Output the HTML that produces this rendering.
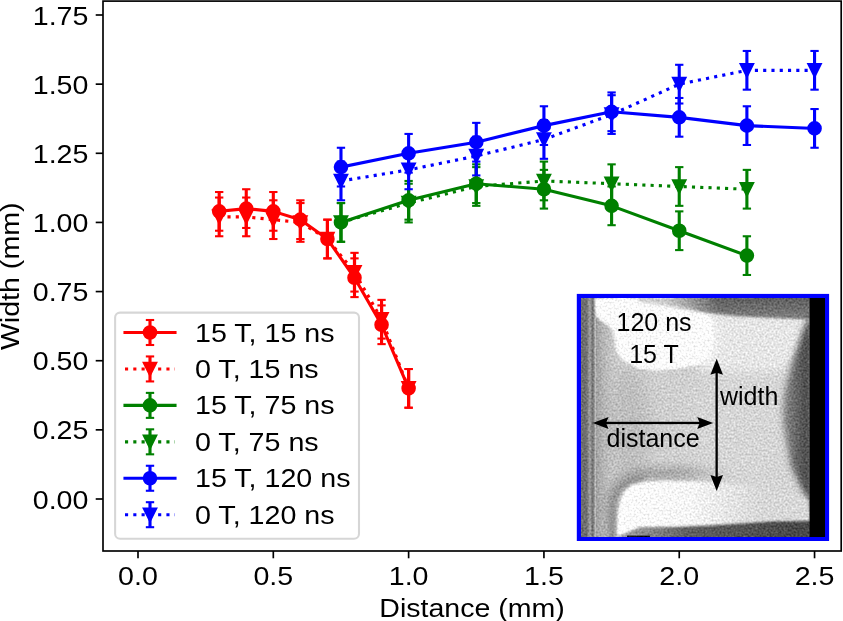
<!DOCTYPE html><html><head><meta charset="utf-8"><style>html,body{margin:0;padding:0;background:#fff;}svg{display:block;will-change:transform;}text{font-family:"Liberation Sans",sans-serif;}</style></head><body><svg width="843" height="621" viewBox="0 0 843 621" font-family="Liberation Sans, sans-serif" fill="#000"><rect width="843" height="621" fill="#fff"/><line x1="219.19" y1="192.01" x2="219.19" y2="230.73" stroke="#ff0000" stroke-width="3.12"/><line x1="215.02" y1="192.01" x2="223.35" y2="192.01" stroke="#ff0000" stroke-width="2.08"/><line x1="215.02" y1="230.73" x2="223.35" y2="230.73" stroke="#ff0000" stroke-width="2.08"/><line x1="246.25" y1="189.24" x2="246.25" y2="227.96" stroke="#ff0000" stroke-width="3.12"/><line x1="242.08" y1="189.24" x2="250.41" y2="189.24" stroke="#ff0000" stroke-width="2.08"/><line x1="242.08" y1="227.96" x2="250.41" y2="227.96" stroke="#ff0000" stroke-width="2.08"/><line x1="273.31" y1="192.01" x2="273.31" y2="230.73" stroke="#ff0000" stroke-width="3.12"/><line x1="269.14" y1="192.01" x2="277.48" y2="192.01" stroke="#ff0000" stroke-width="2.08"/><line x1="269.14" y1="230.73" x2="277.48" y2="230.73" stroke="#ff0000" stroke-width="2.08"/><line x1="300.37" y1="200.3" x2="300.37" y2="239.02" stroke="#ff0000" stroke-width="3.12"/><line x1="296.21" y1="200.3" x2="304.54" y2="200.3" stroke="#ff0000" stroke-width="2.08"/><line x1="296.21" y1="239.02" x2="304.54" y2="239.02" stroke="#ff0000" stroke-width="2.08"/><line x1="327.43" y1="219.66" x2="327.43" y2="258.38" stroke="#ff0000" stroke-width="3.12"/><line x1="323.27" y1="219.66" x2="331.6" y2="219.66" stroke="#ff0000" stroke-width="2.08"/><line x1="323.27" y1="258.38" x2="331.6" y2="258.38" stroke="#ff0000" stroke-width="2.08"/><line x1="354.5" y1="258.38" x2="354.5" y2="297.1" stroke="#ff0000" stroke-width="3.12"/><line x1="350.33" y1="258.38" x2="358.66" y2="258.38" stroke="#ff0000" stroke-width="2.08"/><line x1="350.33" y1="297.1" x2="358.66" y2="297.1" stroke="#ff0000" stroke-width="2.08"/><line x1="381.56" y1="305.4" x2="381.56" y2="344.12" stroke="#ff0000" stroke-width="3.12"/><line x1="377.39" y1="305.4" x2="385.72" y2="305.4" stroke="#ff0000" stroke-width="2.08"/><line x1="377.39" y1="344.12" x2="385.72" y2="344.12" stroke="#ff0000" stroke-width="2.08"/><line x1="408.62" y1="369.01" x2="408.62" y2="407.73" stroke="#ff0000" stroke-width="3.12"/><line x1="404.45" y1="369.01" x2="412.79" y2="369.01" stroke="#ff0000" stroke-width="2.08"/><line x1="404.45" y1="407.73" x2="412.79" y2="407.73" stroke="#ff0000" stroke-width="2.08"/><line x1="219.19" y1="197.54" x2="219.19" y2="236.26" stroke="#ff0000" stroke-width="3.12"/><line x1="215.02" y1="197.54" x2="223.35" y2="197.54" stroke="#ff0000" stroke-width="2.08"/><line x1="215.02" y1="236.26" x2="223.35" y2="236.26" stroke="#ff0000" stroke-width="2.08"/><line x1="246.25" y1="197.54" x2="246.25" y2="236.26" stroke="#ff0000" stroke-width="3.12"/><line x1="242.08" y1="197.54" x2="250.41" y2="197.54" stroke="#ff0000" stroke-width="2.08"/><line x1="242.08" y1="236.26" x2="250.41" y2="236.26" stroke="#ff0000" stroke-width="2.08"/><line x1="273.31" y1="200.3" x2="273.31" y2="239.02" stroke="#ff0000" stroke-width="3.12"/><line x1="269.14" y1="200.3" x2="277.48" y2="200.3" stroke="#ff0000" stroke-width="2.08"/><line x1="269.14" y1="239.02" x2="277.48" y2="239.02" stroke="#ff0000" stroke-width="2.08"/><line x1="300.37" y1="203.07" x2="300.37" y2="241.79" stroke="#ff0000" stroke-width="3.12"/><line x1="296.21" y1="203.07" x2="304.54" y2="203.07" stroke="#ff0000" stroke-width="2.08"/><line x1="296.21" y1="241.79" x2="304.54" y2="241.79" stroke="#ff0000" stroke-width="2.08"/><line x1="327.43" y1="219.66" x2="327.43" y2="258.38" stroke="#ff0000" stroke-width="3.12"/><line x1="323.27" y1="219.66" x2="331.6" y2="219.66" stroke="#ff0000" stroke-width="2.08"/><line x1="323.27" y1="258.38" x2="331.6" y2="258.38" stroke="#ff0000" stroke-width="2.08"/><line x1="354.5" y1="252.85" x2="354.5" y2="291.57" stroke="#ff0000" stroke-width="3.12"/><line x1="350.33" y1="252.85" x2="358.66" y2="252.85" stroke="#ff0000" stroke-width="2.08"/><line x1="350.33" y1="291.57" x2="358.66" y2="291.57" stroke="#ff0000" stroke-width="2.08"/><line x1="381.56" y1="299.87" x2="381.56" y2="338.59" stroke="#ff0000" stroke-width="3.12"/><line x1="377.39" y1="299.87" x2="385.72" y2="299.87" stroke="#ff0000" stroke-width="2.08"/><line x1="377.39" y1="338.59" x2="385.72" y2="338.59" stroke="#ff0000" stroke-width="2.08"/><line x1="408.62" y1="369.01" x2="408.62" y2="407.73" stroke="#ff0000" stroke-width="3.12"/><line x1="404.45" y1="369.01" x2="412.79" y2="369.01" stroke="#ff0000" stroke-width="2.08"/><line x1="404.45" y1="407.73" x2="412.79" y2="407.73" stroke="#ff0000" stroke-width="2.08"/><line x1="340.97" y1="203.07" x2="340.97" y2="241.79" stroke="#008000" stroke-width="3.12"/><line x1="336.8" y1="203.07" x2="345.13" y2="203.07" stroke="#008000" stroke-width="2.08"/><line x1="336.8" y1="241.79" x2="345.13" y2="241.79" stroke="#008000" stroke-width="2.08"/><line x1="408.62" y1="180.94" x2="408.62" y2="219.66" stroke="#008000" stroke-width="3.12"/><line x1="404.45" y1="180.94" x2="412.79" y2="180.94" stroke="#008000" stroke-width="2.08"/><line x1="404.45" y1="219.66" x2="412.79" y2="219.66" stroke="#008000" stroke-width="2.08"/><line x1="476.27" y1="164.35" x2="476.27" y2="203.07" stroke="#008000" stroke-width="3.12"/><line x1="472.11" y1="164.35" x2="480.44" y2="164.35" stroke="#008000" stroke-width="2.08"/><line x1="472.11" y1="203.07" x2="480.44" y2="203.07" stroke="#008000" stroke-width="2.08"/><line x1="543.93" y1="169.88" x2="543.93" y2="208.6" stroke="#008000" stroke-width="3.12"/><line x1="539.76" y1="169.88" x2="548.1" y2="169.88" stroke="#008000" stroke-width="2.08"/><line x1="539.76" y1="208.6" x2="548.1" y2="208.6" stroke="#008000" stroke-width="2.08"/><line x1="611.59" y1="186.48" x2="611.59" y2="225.2" stroke="#008000" stroke-width="3.12"/><line x1="607.42" y1="186.48" x2="615.75" y2="186.48" stroke="#008000" stroke-width="2.08"/><line x1="607.42" y1="225.2" x2="615.75" y2="225.2" stroke="#008000" stroke-width="2.08"/><line x1="679.24" y1="211.37" x2="679.24" y2="250.09" stroke="#008000" stroke-width="3.12"/><line x1="675.07" y1="211.37" x2="683.41" y2="211.37" stroke="#008000" stroke-width="2.08"/><line x1="675.07" y1="250.09" x2="683.41" y2="250.09" stroke="#008000" stroke-width="2.08"/><line x1="746.89" y1="236.26" x2="746.89" y2="274.98" stroke="#008000" stroke-width="3.12"/><line x1="742.73" y1="236.26" x2="751.06" y2="236.26" stroke="#008000" stroke-width="2.08"/><line x1="742.73" y1="274.98" x2="751.06" y2="274.98" stroke="#008000" stroke-width="2.08"/><line x1="340.97" y1="203.07" x2="340.97" y2="241.79" stroke="#008000" stroke-width="3.12"/><line x1="336.8" y1="203.07" x2="345.13" y2="203.07" stroke="#008000" stroke-width="2.08"/><line x1="336.8" y1="241.79" x2="345.13" y2="241.79" stroke="#008000" stroke-width="2.08"/><line x1="408.62" y1="183.71" x2="408.62" y2="222.43" stroke="#008000" stroke-width="3.12"/><line x1="404.45" y1="183.71" x2="412.79" y2="183.71" stroke="#008000" stroke-width="2.08"/><line x1="404.45" y1="222.43" x2="412.79" y2="222.43" stroke="#008000" stroke-width="2.08"/><line x1="476.27" y1="167.12" x2="476.27" y2="205.84" stroke="#008000" stroke-width="3.12"/><line x1="472.11" y1="167.12" x2="480.44" y2="167.12" stroke="#008000" stroke-width="2.08"/><line x1="472.11" y1="205.84" x2="480.44" y2="205.84" stroke="#008000" stroke-width="2.08"/><line x1="543.93" y1="161.58" x2="543.93" y2="200.3" stroke="#008000" stroke-width="3.12"/><line x1="539.76" y1="161.58" x2="548.1" y2="161.58" stroke="#008000" stroke-width="2.08"/><line x1="539.76" y1="200.3" x2="548.1" y2="200.3" stroke="#008000" stroke-width="2.08"/><line x1="611.59" y1="164.35" x2="611.59" y2="203.07" stroke="#008000" stroke-width="3.12"/><line x1="607.42" y1="164.35" x2="615.75" y2="164.35" stroke="#008000" stroke-width="2.08"/><line x1="607.42" y1="203.07" x2="615.75" y2="203.07" stroke="#008000" stroke-width="2.08"/><line x1="679.24" y1="167.12" x2="679.24" y2="205.84" stroke="#008000" stroke-width="3.12"/><line x1="675.07" y1="167.12" x2="683.41" y2="167.12" stroke="#008000" stroke-width="2.08"/><line x1="675.07" y1="205.84" x2="683.41" y2="205.84" stroke="#008000" stroke-width="2.08"/><line x1="746.89" y1="169.88" x2="746.89" y2="208.6" stroke="#008000" stroke-width="3.12"/><line x1="742.73" y1="169.88" x2="751.06" y2="169.88" stroke="#008000" stroke-width="2.08"/><line x1="742.73" y1="208.6" x2="751.06" y2="208.6" stroke="#008000" stroke-width="2.08"/><line x1="340.97" y1="147.76" x2="340.97" y2="186.48" stroke="#0000ff" stroke-width="3.12"/><line x1="336.8" y1="147.76" x2="345.13" y2="147.76" stroke="#0000ff" stroke-width="2.08"/><line x1="336.8" y1="186.48" x2="345.13" y2="186.48" stroke="#0000ff" stroke-width="2.08"/><line x1="408.62" y1="133.93" x2="408.62" y2="172.65" stroke="#0000ff" stroke-width="3.12"/><line x1="404.45" y1="133.93" x2="412.79" y2="133.93" stroke="#0000ff" stroke-width="2.08"/><line x1="404.45" y1="172.65" x2="412.79" y2="172.65" stroke="#0000ff" stroke-width="2.08"/><line x1="476.27" y1="122.86" x2="476.27" y2="161.58" stroke="#0000ff" stroke-width="3.12"/><line x1="472.11" y1="122.86" x2="480.44" y2="122.86" stroke="#0000ff" stroke-width="2.08"/><line x1="472.11" y1="161.58" x2="480.44" y2="161.58" stroke="#0000ff" stroke-width="2.08"/><line x1="543.93" y1="106.27" x2="543.93" y2="144.99" stroke="#0000ff" stroke-width="3.12"/><line x1="539.76" y1="106.27" x2="548.1" y2="106.27" stroke="#0000ff" stroke-width="2.08"/><line x1="539.76" y1="144.99" x2="548.1" y2="144.99" stroke="#0000ff" stroke-width="2.08"/><line x1="611.59" y1="92.44" x2="611.59" y2="131.16" stroke="#0000ff" stroke-width="3.12"/><line x1="607.42" y1="92.44" x2="615.75" y2="92.44" stroke="#0000ff" stroke-width="2.08"/><line x1="607.42" y1="131.16" x2="615.75" y2="131.16" stroke="#0000ff" stroke-width="2.08"/><line x1="679.24" y1="97.97" x2="679.24" y2="136.69" stroke="#0000ff" stroke-width="3.12"/><line x1="675.07" y1="97.97" x2="683.41" y2="97.97" stroke="#0000ff" stroke-width="2.08"/><line x1="675.07" y1="136.69" x2="683.41" y2="136.69" stroke="#0000ff" stroke-width="2.08"/><line x1="746.89" y1="106.27" x2="746.89" y2="144.99" stroke="#0000ff" stroke-width="3.12"/><line x1="742.73" y1="106.27" x2="751.06" y2="106.27" stroke="#0000ff" stroke-width="2.08"/><line x1="742.73" y1="144.99" x2="751.06" y2="144.99" stroke="#0000ff" stroke-width="2.08"/><line x1="814.55" y1="109.04" x2="814.55" y2="147.76" stroke="#0000ff" stroke-width="3.12"/><line x1="810.38" y1="109.04" x2="818.72" y2="109.04" stroke="#0000ff" stroke-width="2.08"/><line x1="810.38" y1="147.76" x2="818.72" y2="147.76" stroke="#0000ff" stroke-width="2.08"/><line x1="340.97" y1="161.58" x2="340.97" y2="200.3" stroke="#0000ff" stroke-width="3.12"/><line x1="336.8" y1="161.58" x2="345.13" y2="161.58" stroke="#0000ff" stroke-width="2.08"/><line x1="336.8" y1="200.3" x2="345.13" y2="200.3" stroke="#0000ff" stroke-width="2.08"/><line x1="408.62" y1="150.52" x2="408.62" y2="189.24" stroke="#0000ff" stroke-width="3.12"/><line x1="404.45" y1="150.52" x2="412.79" y2="150.52" stroke="#0000ff" stroke-width="2.08"/><line x1="404.45" y1="189.24" x2="412.79" y2="189.24" stroke="#0000ff" stroke-width="2.08"/><line x1="476.27" y1="136.69" x2="476.27" y2="175.41" stroke="#0000ff" stroke-width="3.12"/><line x1="472.11" y1="136.69" x2="480.44" y2="136.69" stroke="#0000ff" stroke-width="2.08"/><line x1="472.11" y1="175.41" x2="480.44" y2="175.41" stroke="#0000ff" stroke-width="2.08"/><line x1="543.93" y1="120.1" x2="543.93" y2="158.82" stroke="#0000ff" stroke-width="3.12"/><line x1="539.76" y1="120.1" x2="548.1" y2="120.1" stroke="#0000ff" stroke-width="2.08"/><line x1="539.76" y1="158.82" x2="548.1" y2="158.82" stroke="#0000ff" stroke-width="2.08"/><line x1="611.59" y1="95.21" x2="611.59" y2="133.93" stroke="#0000ff" stroke-width="3.12"/><line x1="607.42" y1="95.21" x2="615.75" y2="95.21" stroke="#0000ff" stroke-width="2.08"/><line x1="607.42" y1="133.93" x2="615.75" y2="133.93" stroke="#0000ff" stroke-width="2.08"/><line x1="679.24" y1="64.79" x2="679.24" y2="103.5" stroke="#0000ff" stroke-width="3.12"/><line x1="675.07" y1="64.79" x2="683.41" y2="64.79" stroke="#0000ff" stroke-width="2.08"/><line x1="675.07" y1="103.5" x2="683.41" y2="103.5" stroke="#0000ff" stroke-width="2.08"/><line x1="746.89" y1="50.96" x2="746.89" y2="89.68" stroke="#0000ff" stroke-width="3.12"/><line x1="742.73" y1="50.96" x2="751.06" y2="50.96" stroke="#0000ff" stroke-width="2.08"/><line x1="742.73" y1="89.68" x2="751.06" y2="89.68" stroke="#0000ff" stroke-width="2.08"/><line x1="814.55" y1="50.96" x2="814.55" y2="89.68" stroke="#0000ff" stroke-width="3.12"/><line x1="810.38" y1="50.96" x2="818.72" y2="50.96" stroke="#0000ff" stroke-width="2.08"/><line x1="810.38" y1="89.68" x2="818.72" y2="89.68" stroke="#0000ff" stroke-width="2.08"/><path d="M219.19 211.37 L246.25 208.6 L273.31 211.37 L300.37 219.66 L327.43 239.02 L354.5 277.74 L381.56 324.76 L408.62 388.37" fill="none" stroke="#ff0000" stroke-width="3.12" stroke-linecap="square" stroke-linejoin="round"/><circle cx="219.19" cy="211.37" r="6.25" fill="#ff0000" stroke="#ff0000" stroke-width="2.08"/><circle cx="246.25" cy="208.6" r="6.25" fill="#ff0000" stroke="#ff0000" stroke-width="2.08"/><circle cx="273.31" cy="211.37" r="6.25" fill="#ff0000" stroke="#ff0000" stroke-width="2.08"/><circle cx="300.37" cy="219.66" r="6.25" fill="#ff0000" stroke="#ff0000" stroke-width="2.08"/><circle cx="327.43" cy="239.02" r="6.25" fill="#ff0000" stroke="#ff0000" stroke-width="2.08"/><circle cx="354.5" cy="277.74" r="6.25" fill="#ff0000" stroke="#ff0000" stroke-width="2.08"/><circle cx="381.56" cy="324.76" r="6.25" fill="#ff0000" stroke="#ff0000" stroke-width="2.08"/><circle cx="408.62" cy="388.37" r="6.25" fill="#ff0000" stroke="#ff0000" stroke-width="2.08"/><path d="M219.19 216.9 L246.25 216.9 L273.31 219.66 L300.37 222.43 L327.43 239.02 L354.5 272.21 L381.56 319.23 L408.62 388.37" fill="none" stroke="#ff0000" stroke-width="3.12" stroke-linecap="butt" stroke-linejoin="round" stroke-dasharray="3.12 5.16"/><polygon points="219.19,223.15 212.94,210.65 225.44,210.65" fill="#ff0000" stroke="#ff0000" stroke-width="2.08" stroke-linejoin="miter"/><polygon points="246.25,223.15 240,210.65 252.5,210.65" fill="#ff0000" stroke="#ff0000" stroke-width="2.08" stroke-linejoin="miter"/><polygon points="273.31,225.91 267.06,213.41 279.56,213.41" fill="#ff0000" stroke="#ff0000" stroke-width="2.08" stroke-linejoin="miter"/><polygon points="300.37,228.68 294.12,216.18 306.62,216.18" fill="#ff0000" stroke="#ff0000" stroke-width="2.08" stroke-linejoin="miter"/><polygon points="327.43,245.27 321.18,232.77 333.68,232.77" fill="#ff0000" stroke="#ff0000" stroke-width="2.08" stroke-linejoin="miter"/><polygon points="354.5,278.46 348.25,265.96 360.75,265.96" fill="#ff0000" stroke="#ff0000" stroke-width="2.08" stroke-linejoin="miter"/><polygon points="381.56,325.48 375.31,312.98 387.81,312.98" fill="#ff0000" stroke="#ff0000" stroke-width="2.08" stroke-linejoin="miter"/><polygon points="408.62,394.62 402.37,382.12 414.87,382.12" fill="#ff0000" stroke="#ff0000" stroke-width="2.08" stroke-linejoin="miter"/><path d="M340.97 222.43 L408.62 200.3 L476.27 183.71 L543.93 189.24 L611.59 205.84 L679.24 230.73 L746.89 255.62" fill="none" stroke="#008000" stroke-width="3.12" stroke-linecap="square" stroke-linejoin="round"/><circle cx="340.97" cy="222.43" r="6.25" fill="#008000" stroke="#008000" stroke-width="2.08"/><circle cx="408.62" cy="200.3" r="6.25" fill="#008000" stroke="#008000" stroke-width="2.08"/><circle cx="476.27" cy="183.71" r="6.25" fill="#008000" stroke="#008000" stroke-width="2.08"/><circle cx="543.93" cy="189.24" r="6.25" fill="#008000" stroke="#008000" stroke-width="2.08"/><circle cx="611.59" cy="205.84" r="6.25" fill="#008000" stroke="#008000" stroke-width="2.08"/><circle cx="679.24" cy="230.73" r="6.25" fill="#008000" stroke="#008000" stroke-width="2.08"/><circle cx="746.89" cy="255.62" r="6.25" fill="#008000" stroke="#008000" stroke-width="2.08"/><path d="M340.97 222.43 L408.62 203.07 L476.27 186.48 L543.93 180.94 L611.59 183.71 L679.24 186.48 L746.89 189.24" fill="none" stroke="#008000" stroke-width="3.12" stroke-linecap="butt" stroke-linejoin="round" stroke-dasharray="3.12 5.16"/><polygon points="340.97,228.68 334.72,216.18 347.22,216.18" fill="#008000" stroke="#008000" stroke-width="2.08" stroke-linejoin="miter"/><polygon points="408.62,209.32 402.37,196.82 414.87,196.82" fill="#008000" stroke="#008000" stroke-width="2.08" stroke-linejoin="miter"/><polygon points="476.27,192.73 470.02,180.23 482.52,180.23" fill="#008000" stroke="#008000" stroke-width="2.08" stroke-linejoin="miter"/><polygon points="543.93,187.19 537.68,174.69 550.18,174.69" fill="#008000" stroke="#008000" stroke-width="2.08" stroke-linejoin="miter"/><polygon points="611.59,189.96 605.34,177.46 617.84,177.46" fill="#008000" stroke="#008000" stroke-width="2.08" stroke-linejoin="miter"/><polygon points="679.24,192.73 672.99,180.23 685.49,180.23" fill="#008000" stroke="#008000" stroke-width="2.08" stroke-linejoin="miter"/><polygon points="746.89,195.49 740.64,182.99 753.14,182.99" fill="#008000" stroke="#008000" stroke-width="2.08" stroke-linejoin="miter"/><path d="M340.97 167.12 L408.62 153.29 L476.27 142.22 L543.93 125.63 L611.59 111.8 L679.24 117.33 L746.89 125.63 L814.55 128.4" fill="none" stroke="#0000ff" stroke-width="3.12" stroke-linecap="square" stroke-linejoin="round"/><circle cx="340.97" cy="167.12" r="6.25" fill="#0000ff" stroke="#0000ff" stroke-width="2.08"/><circle cx="408.62" cy="153.29" r="6.25" fill="#0000ff" stroke="#0000ff" stroke-width="2.08"/><circle cx="476.27" cy="142.22" r="6.25" fill="#0000ff" stroke="#0000ff" stroke-width="2.08"/><circle cx="543.93" cy="125.63" r="6.25" fill="#0000ff" stroke="#0000ff" stroke-width="2.08"/><circle cx="611.59" cy="111.8" r="6.25" fill="#0000ff" stroke="#0000ff" stroke-width="2.08"/><circle cx="679.24" cy="117.33" r="6.25" fill="#0000ff" stroke="#0000ff" stroke-width="2.08"/><circle cx="746.89" cy="125.63" r="6.25" fill="#0000ff" stroke="#0000ff" stroke-width="2.08"/><circle cx="814.55" cy="128.4" r="6.25" fill="#0000ff" stroke="#0000ff" stroke-width="2.08"/><path d="M340.97 180.94 L408.62 169.88 L476.27 156.05 L543.93 139.46 L611.59 114.57 L679.24 84.14 L746.89 70.32 L814.55 70.32" fill="none" stroke="#0000ff" stroke-width="3.12" stroke-linecap="butt" stroke-linejoin="round" stroke-dasharray="3.12 5.16"/><polygon points="340.97,187.19 334.72,174.69 347.22,174.69" fill="#0000ff" stroke="#0000ff" stroke-width="2.08" stroke-linejoin="miter"/><polygon points="408.62,176.13 402.37,163.63 414.87,163.63" fill="#0000ff" stroke="#0000ff" stroke-width="2.08" stroke-linejoin="miter"/><polygon points="476.27,162.3 470.02,149.8 482.52,149.8" fill="#0000ff" stroke="#0000ff" stroke-width="2.08" stroke-linejoin="miter"/><polygon points="543.93,145.71 537.68,133.21 550.18,133.21" fill="#0000ff" stroke="#0000ff" stroke-width="2.08" stroke-linejoin="miter"/><polygon points="611.59,120.82 605.34,108.32 617.84,108.32" fill="#0000ff" stroke="#0000ff" stroke-width="2.08" stroke-linejoin="miter"/><polygon points="679.24,90.39 672.99,77.89 685.49,77.89" fill="#0000ff" stroke="#0000ff" stroke-width="2.08" stroke-linejoin="miter"/><polygon points="746.89,76.57 740.64,64.07 753.14,64.07" fill="#0000ff" stroke="#0000ff" stroke-width="2.08" stroke-linejoin="miter"/><polygon points="814.55,76.57 808.3,64.07 820.8,64.07" fill="#0000ff" stroke="#0000ff" stroke-width="2.08" stroke-linejoin="miter"/><rect x="103" y="1.1" width="738.2" height="549.9" fill="none" stroke="#000" stroke-width="1.67" stroke-linejoin="miter"/><line x1="95.71" y1="499" x2="103" y2="499" stroke="#000" stroke-width="1.67"/><text x="88.42" y="508.57" font-size="26.2" text-anchor="end" textLength="55.66" lengthAdjust="spacingAndGlyphs">0.00</text><line x1="95.71" y1="429.86" x2="103" y2="429.86" stroke="#000" stroke-width="1.67"/><text x="88.42" y="439.43" font-size="26.2" text-anchor="end" textLength="55.66" lengthAdjust="spacingAndGlyphs">0.25</text><line x1="95.71" y1="360.72" x2="103" y2="360.72" stroke="#000" stroke-width="1.67"/><text x="88.42" y="370.29" font-size="26.2" text-anchor="end" textLength="55.66" lengthAdjust="spacingAndGlyphs">0.50</text><line x1="95.71" y1="291.57" x2="103" y2="291.57" stroke="#000" stroke-width="1.67"/><text x="88.42" y="301.14" font-size="26.2" text-anchor="end" textLength="55.66" lengthAdjust="spacingAndGlyphs">0.75</text><line x1="95.71" y1="222.43" x2="103" y2="222.43" stroke="#000" stroke-width="1.67"/><text x="88.42" y="232" font-size="26.2" text-anchor="end" textLength="55.66" lengthAdjust="spacingAndGlyphs">1.00</text><line x1="95.71" y1="153.29" x2="103" y2="153.29" stroke="#000" stroke-width="1.67"/><text x="88.42" y="162.86" font-size="26.2" text-anchor="end" textLength="55.66" lengthAdjust="spacingAndGlyphs">1.25</text><line x1="95.71" y1="84.14" x2="103" y2="84.14" stroke="#000" stroke-width="1.67"/><text x="88.42" y="93.71" font-size="26.2" text-anchor="end" textLength="55.66" lengthAdjust="spacingAndGlyphs">1.50</text><line x1="95.71" y1="15" x2="103" y2="15" stroke="#000" stroke-width="1.67"/><text x="88.42" y="24.57" font-size="26.2" text-anchor="end" textLength="55.66" lengthAdjust="spacingAndGlyphs">1.75</text><line x1="138" y1="551" x2="138" y2="558.29" stroke="#000" stroke-width="1.67"/><text x="138" y="585.1" font-size="26.2" text-anchor="middle" textLength="39.76" lengthAdjust="spacingAndGlyphs">0.0</text><line x1="273.31" y1="551" x2="273.31" y2="558.29" stroke="#000" stroke-width="1.67"/><text x="273.31" y="585.1" font-size="26.2" text-anchor="middle" textLength="39.76" lengthAdjust="spacingAndGlyphs">0.5</text><line x1="408.62" y1="551" x2="408.62" y2="558.29" stroke="#000" stroke-width="1.67"/><text x="408.62" y="585.1" font-size="26.2" text-anchor="middle" textLength="39.76" lengthAdjust="spacingAndGlyphs">1.0</text><line x1="543.93" y1="551" x2="543.93" y2="558.29" stroke="#000" stroke-width="1.67"/><text x="543.93" y="585.1" font-size="26.2" text-anchor="middle" textLength="39.76" lengthAdjust="spacingAndGlyphs">1.5</text><line x1="679.24" y1="551" x2="679.24" y2="558.29" stroke="#000" stroke-width="1.67"/><text x="679.24" y="585.1" font-size="26.2" text-anchor="middle" textLength="39.76" lengthAdjust="spacingAndGlyphs">2.0</text><line x1="814.55" y1="551" x2="814.55" y2="558.29" stroke="#000" stroke-width="1.67"/><text x="814.55" y="585.1" font-size="26.2" text-anchor="middle" textLength="39.76" lengthAdjust="spacingAndGlyphs">2.5</text><text x="472.1" y="616.8" font-size="26.2" text-anchor="middle" textLength="185.47" lengthAdjust="spacingAndGlyphs">Distance (mm)</text><text x="0" y="0" font-size="26.2" text-anchor="middle" textLength="147.6" lengthAdjust="spacingAndGlyphs" transform="translate(18.8 276.3) rotate(-90)">Width (mm)</text><rect x="115.1" y="312.6" width="243.9" height="226.1" rx="5" ry="5" fill="#fff" fill-opacity="0.8" stroke="#ccc" stroke-opacity="0.8" stroke-width="2.08"/><line x1="150" y1="320" x2="150" y2="345" stroke="#ff0000" stroke-width="3.12"/><line x1="145.83" y1="320" x2="154.17" y2="320" stroke="#ff0000" stroke-width="2.08"/><line x1="145.83" y1="345" x2="154.17" y2="345" stroke="#ff0000" stroke-width="2.08"/><path d="M125 332.5 L175 332.5" fill="none" stroke="#ff0000" stroke-width="3.12" stroke-linecap="square" stroke-linejoin="round"/><circle cx="150" cy="332.5" r="6.25" fill="#ff0000" stroke="#ff0000" stroke-width="2.08"/><text x="195" y="341.55" font-size="26.2" text-anchor="start" textLength="139.55" lengthAdjust="spacingAndGlyphs">15 T, 15 ns</text><line x1="150" y1="356.44" x2="150" y2="381.44" stroke="#ff0000" stroke-width="3.12"/><line x1="145.83" y1="356.44" x2="154.17" y2="356.44" stroke="#ff0000" stroke-width="2.08"/><line x1="145.83" y1="381.44" x2="154.17" y2="381.44" stroke="#ff0000" stroke-width="2.08"/><path d="M125 368.94 L175 368.94" fill="none" stroke="#ff0000" stroke-width="3.12" stroke-linecap="butt" stroke-linejoin="round" stroke-dasharray="3.12 5.16"/><polygon points="150,375.19 143.75,362.69 156.25,362.69" fill="#ff0000" stroke="#ff0000" stroke-width="2.08" stroke-linejoin="miter"/><text x="195" y="377.99" font-size="26.2" text-anchor="start" textLength="123.65" lengthAdjust="spacingAndGlyphs">0 T, 15 ns</text><line x1="150" y1="392.88" x2="150" y2="417.88" stroke="#008000" stroke-width="3.12"/><line x1="145.83" y1="392.88" x2="154.17" y2="392.88" stroke="#008000" stroke-width="2.08"/><line x1="145.83" y1="417.88" x2="154.17" y2="417.88" stroke="#008000" stroke-width="2.08"/><path d="M125 405.38 L175 405.38" fill="none" stroke="#008000" stroke-width="3.12" stroke-linecap="square" stroke-linejoin="round"/><circle cx="150" cy="405.38" r="6.25" fill="#008000" stroke="#008000" stroke-width="2.08"/><text x="195" y="414.43" font-size="26.2" text-anchor="start" textLength="139.55" lengthAdjust="spacingAndGlyphs">15 T, 75 ns</text><line x1="150" y1="429.32" x2="150" y2="454.32" stroke="#008000" stroke-width="3.12"/><line x1="145.83" y1="429.32" x2="154.17" y2="429.32" stroke="#008000" stroke-width="2.08"/><line x1="145.83" y1="454.32" x2="154.17" y2="454.32" stroke="#008000" stroke-width="2.08"/><path d="M125 441.82 L175 441.82" fill="none" stroke="#008000" stroke-width="3.12" stroke-linecap="butt" stroke-linejoin="round" stroke-dasharray="3.12 5.16"/><polygon points="150,448.07 143.75,435.57 156.25,435.57" fill="#008000" stroke="#008000" stroke-width="2.08" stroke-linejoin="miter"/><text x="195" y="450.87" font-size="26.2" text-anchor="start" textLength="123.65" lengthAdjust="spacingAndGlyphs">0 T, 75 ns</text><line x1="150" y1="465.76" x2="150" y2="490.76" stroke="#0000ff" stroke-width="3.12"/><line x1="145.83" y1="465.76" x2="154.17" y2="465.76" stroke="#0000ff" stroke-width="2.08"/><line x1="145.83" y1="490.76" x2="154.17" y2="490.76" stroke="#0000ff" stroke-width="2.08"/><path d="M125 478.26 L175 478.26" fill="none" stroke="#0000ff" stroke-width="3.12" stroke-linecap="square" stroke-linejoin="round"/><circle cx="150" cy="478.26" r="6.25" fill="#0000ff" stroke="#0000ff" stroke-width="2.08"/><text x="195" y="487.31" font-size="26.2" text-anchor="start" textLength="155.46" lengthAdjust="spacingAndGlyphs">15 T, 120 ns</text><line x1="150" y1="502.2" x2="150" y2="527.2" stroke="#0000ff" stroke-width="3.12"/><line x1="145.83" y1="502.2" x2="154.17" y2="502.2" stroke="#0000ff" stroke-width="2.08"/><line x1="145.83" y1="527.2" x2="154.17" y2="527.2" stroke="#0000ff" stroke-width="2.08"/><path d="M125 514.7 L175 514.7" fill="none" stroke="#0000ff" stroke-width="3.12" stroke-linecap="butt" stroke-linejoin="round" stroke-dasharray="3.12 5.16"/><polygon points="150,520.95 143.75,508.45 156.25,508.45" fill="#0000ff" stroke="#0000ff" stroke-width="2.08" stroke-linejoin="miter"/><text x="195" y="523.75" font-size="26.2" text-anchor="start" textLength="139.55" lengthAdjust="spacingAndGlyphs">0 T, 120 ns</text><defs>
<clipPath id="ic"><rect x="581.2" y="298" width="243.8" height="239"/></clipPath>
<filter id="b08" filterUnits="userSpaceOnUse" x="560" y="280" width="290" height="280"><feGaussianBlur stdDeviation="0.8"/></filter>
<filter id="b1" filterUnits="userSpaceOnUse" x="560" y="280" width="290" height="280"><feGaussianBlur stdDeviation="1.2"/></filter>
<filter id="b2" filterUnits="userSpaceOnUse" x="560" y="280" width="290" height="280"><feGaussianBlur stdDeviation="2"/></filter>
<filter id="b3" filterUnits="userSpaceOnUse" x="560" y="280" width="290" height="280"><feGaussianBlur stdDeviation="3"/></filter><filter id="b4" filterUnits="userSpaceOnUse" x="560" y="280" width="290" height="280"><feGaussianBlur stdDeviation="4"/></filter>
<filter id="b12" filterUnits="userSpaceOnUse" x="560" y="280" width="290" height="280"><feGaussianBlur stdDeviation="12"/></filter><filter id="b8" filterUnits="userSpaceOnUse" x="560" y="280" width="290" height="280"><feGaussianBlur stdDeviation="8"/></filter>
<linearGradient id="gl" x1="596" y1="0" x2="622" y2="0" gradientUnits="userSpaceOnUse"><stop offset="0" stop-color="#a0a0a0"/><stop offset="1" stop-color="#c6c6c6" stop-opacity="0"/></linearGradient>
<linearGradient id="gr" x1="783" y1="0" x2="809" y2="0" gradientUnits="userSpaceOnUse"><stop offset="0" stop-color="#8a8a8a"/><stop offset="1" stop-color="#444444"/></linearGradient>
<linearGradient id="gt" x1="0" y1="298" x2="0" y2="319" gradientUnits="userSpaceOnUse"><stop offset="0" stop-color="#5e5e5e"/><stop offset="1" stop-color="#808080"/></linearGradient><linearGradient id="gtm" x1="665" y1="0" x2="718" y2="0" gradientUnits="userSpaceOnUse"><stop offset="0" stop-color="#fff" stop-opacity="0"/><stop offset="1" stop-color="#fff" stop-opacity="1"/></linearGradient><mask id="mt" maskUnits="userSpaceOnUse" x="560" y="280" width="290" height="280"><rect x="560" y="280" width="290" height="280" fill="url(#gtm)"/></mask>
<linearGradient id="gbw" x1="620" y1="0" x2="760" y2="0" gradientUnits="userSpaceOnUse"><stop offset="0" stop-color="#fcfcfc"/><stop offset="0.5" stop-color="#f6f6f6"/><stop offset="1" stop-color="#d8d8d8"/></linearGradient><linearGradient id="gsh" x1="600" y1="0" x2="740" y2="0" gradientUnits="userSpaceOnUse"><stop offset="0" stop-color="#a0a0a0"/><stop offset="0.6" stop-color="#a4a4a4"/><stop offset="1" stop-color="#c8c8c8" stop-opacity="0"/></linearGradient>
<linearGradient id="gbd" x1="610" y1="0" x2="800" y2="0" gradientUnits="userSpaceOnUse"><stop offset="0" stop-color="#a4a4a4"/><stop offset="0.2" stop-color="#8a8a8a"/><stop offset="0.4" stop-color="#606060"/><stop offset="1" stop-color="#484848"/></linearGradient>
<filter id="grain" filterUnits="userSpaceOnUse" x="581" y="298" width="244" height="239" color-interpolation-filters="sRGB"><feTurbulence type="fractalNoise" baseFrequency="0.5" numOctaves="2" seed="7" result="n"/><feColorMatrix in="n" type="matrix" values="1 0 0 0 0 1 0 0 0 0 1 0 0 0 0 0 0 0 0 1" result="g"/><feComposite in="SourceGraphic" in2="g" operator="arithmetic" k1="0" k2="1" k3="0.36" k4="-0.18"/></filter></defs>
<rect x="576.8" y="293.9" width="252.3" height="247.1" fill="#0000ff"/>
<g filter="url(#grain)"><g clip-path="url(#ic)">
<rect x="581.2" y="298" width="243.8" height="239" fill="#cfcfcf"/><ellipse cx="745" cy="425" rx="55" ry="75" fill="#d6d6d6" filter="url(#b12)"/>
<ellipse cx="628" cy="425" rx="22" ry="60" fill="#bebebe" filter="url(#b8)"/>
<path d="M700 312 L808 318 L804 331 L799 346 L795 360 L780 372 L700 372 Z" fill="#e6e6e6" filter="url(#b4)"/>
<path d="M740 476 L797 482 L808 498 L809 521 L740 521 Z" fill="#d6d6d6" filter="url(#b4)"/>
<rect x="596" y="298" width="30" height="239" fill="url(#gl)"/>
<ellipse cx="705" cy="340" rx="14" ry="26" fill="#f0f0f0" filter="url(#b4)"/>
<path d="M593 298 L594 307.5 L596 316 L601 321 L608.4 325.6 L612.8 330.7 L615 340.8 L616.4 351 L620 356.8 L624 361 L638 368.5 L658.5 370.5 L678.6 368.5 L698.8 364.5 L710 356 L714 340 L712 318 L700 310 L690 306 L660 304 L640 300 L630 298 Z" fill="#fbfbfb" filter="url(#b1)"/>
<path d="M640 296 L700 296 L700 306 L670 305.5 L640 302 Z" fill="#cdcdcd" filter="url(#b2)"/>

<g mask="url(#mt)"><path d="M660 296 L812 296 L812 319.5 L790 318.5 L760 317.3 L740 316.2 L730 315.5 L715 313.5 L700 312 L680 309 L660 306 Z" fill="url(#gt)" filter="url(#b1)"/></g>
<path d="M812 316 L808 320 L803 331 L798 346 L793 360 L789 375 L785 390 L783 405 L783 423 L787 445 L790.5 465 L797 479 L802.5 490 L808 498 L810 523 L812 523 Z" fill="url(#gr)" filter="url(#b3)"/>
<path d="M611 545 L611 505 C612 488 622 476 645 473 L700 473 L760 477" stroke="url(#gsh)" stroke-width="12" fill="none" filter="url(#b4)"/><path d="M612 545 L612.5 505 C614 490 624 480 645 477" stroke="#8e8e8e" stroke-width="5" fill="none" filter="url(#b2)"/>
<path d="M617 537 L617.3 522 L618 511.6 L620.3 501.6 L624.3 491.5 L632 485 L645 482 L665 481 L700 481.4 L740 484 L790 494 L808 500 L809 521 L772 521 L720 524.5 L680 526.7 L640 527 L625 533.8 Z" fill="url(#gbw)" filter="url(#b1)"/>
<path d="M596 540 L596 537 L617 537 L625 533.8 L640 527.5 L680 527 L720 525 L772 521.5 L812 521 L812 540 Z" fill="url(#gbd)" filter="url(#b1)"/>

<rect x="627" y="535.6" width="23" height="2" fill="#111"/>
<g filter="url(#b08)">
<rect x="579" y="296" width="9.8" height="243" fill="#6e6e6e"/>
<rect x="588.8" y="296" width="2.2" height="243" fill="#ababab"/>
<rect x="591" y="296" width="3.4" height="243" fill="#666666"/>
</g>

</g>
</g><g clip-path="url(#ic)"><rect x="809.6" y="296" width="18" height="243" fill="#000"/></g><g fill="#000" font-size="25" font-family="Liberation Sans, sans-serif">
<text x="616.5" y="331.4">120 ns</text>
<text x="629.2" y="362.6">15 T</text>
<text x="720" y="404.7">width</text>
<text x="606.5" y="446.8">distance</text>
</g>
<g fill="#000" stroke="none">
<rect x="605" y="421.8" width="96" height="2.3"/>
<path d="M592.7 422.9 L608.6 416.9 L606 422.9 L608.6 428.9 Z"/>
<path d="M713.1 422.9 L697.2 416.9 L699.8 422.9 L697.2 428.9 Z"/>
<rect x="715.5" y="372" width="2.3" height="106"/>
<path d="M716.7 358.8 L710.4 374.8 L716.7 372.8 L723 374.8 Z"/>
<path d="M716.7 491 L710.4 475 L716.7 477 L723 475 Z"/>
</g>
</svg></body></html>
